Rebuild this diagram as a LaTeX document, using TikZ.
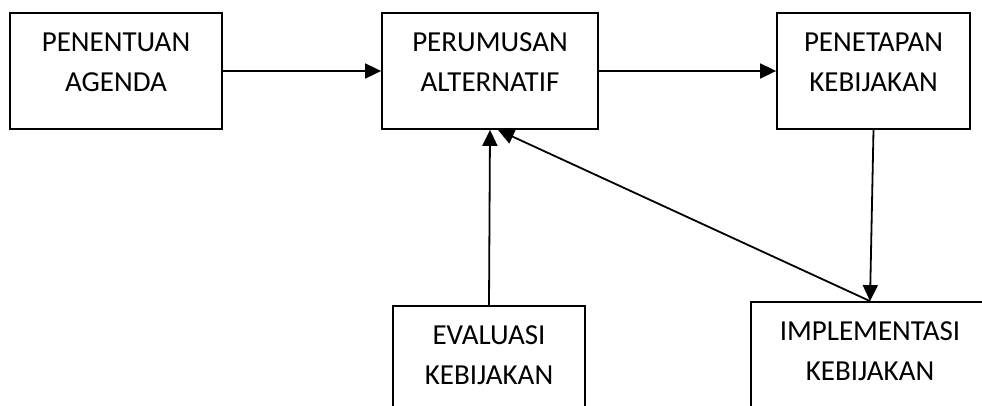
\documentclass[tikz,border=0pt]{standalone}
\usepackage{fontspec}
\setmainfont{Carlito}
\usepackage{tikz}
\usetikzlibrary{arrows.meta}

\tikzset{
  stage/.style={draw,line width=1.8pt,minimum height=116pt,inner sep=0pt,
    align=center,font=\fontsize{29}{40}\selectfont,text depth=17pt},
  flow/.style={line width=1.8pt,-{Triangle[length=16pt,width=15pt]}}
}

\begin{document}
\begin{tikzpicture}[x=1pt,y=-1pt]
\useasboundingbox (0,0) rectangle (982,405);
\node[stage,minimum width=212pt] (agenda) at (116,71) {PENENTUAN\\AGENDA};
\node[stage,minimum width=216pt] (alternatif) at (490,71) {PERUMUSAN\\ALTERNATIF};
\node[stage,minimum width=193pt] (penetapan) at (873.5,71) {PENETAPAN\\KEBIJAKAN};
\node[stage,minimum width=192pt] (evaluasi) at (489,364) {EVALUASI\\KEBIJAKAN};
\node[stage,minimum width=238pt] (implementasi) at (870,360) {IMPLEMENTASI\\KEBIJAKAN};
% alur kebijakan
\draw[flow] (agenda) -- (alternatif);
\draw[flow] (alternatif) -- (penetapan);
\draw[flow] (penetapan.south) -- (implementasi.north);
\draw[flow] (evaluasi.north) -- (alternatif.south);
\draw[flow] (implementasi.north) -- ([xshift=8pt]alternatif.south);
\end{tikzpicture}
\end{document}
